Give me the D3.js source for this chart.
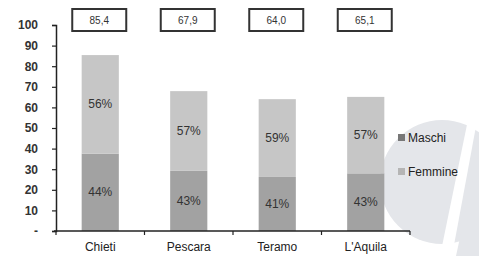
<!DOCTYPE html>
<html><head><meta charset="utf-8">
<script src="https://cdn.jsdelivr.net/npm/d3@7"></script>
<style>html,body{margin:0;padding:0;background:#fff;}svg{display:block;font-family:"Liberation Sans",Arial,sans-serif;}</style>
</head><body>
<svg id="c" width="479" height="256"></svg>
<script>
const categories = ["Chieti", "Pescara", "Teramo", "L'Aquila"];
const totals = [85.4, 67.9, 64.0, 65.1];
const maschiPct = [44, 43, 41, 43];
const femminePct = [56, 57, 59, 57];
const seriesNames = ["Maschi", "Femmine"];
const yTicks = [0, 10, 20, 30, 40, 50, 60, 70, 80, 90, 100];
const yTickLabels = ["-", "10", "20", "30", "40", "50", "60", "70", "80", "90", "100"];

const colors = {Maschi: "#a2a2a2", Femmine: "#c6c6c6"};
const svg = d3.select("#c");
const loc = d3.formatLocale({decimal: ",", thousands: ".", grouping: [3], currency: ["", ""]});
const f1 = loc.format(".1f");

// watermark
const wm = svg.append("g");
wm.append("circle").attr("cx", 442).attr("cy", 182).attr("r", 62).attr("fill", "#e4e6ea");
wm.append("polygon").attr("points", "470,110 479,110 452,256 440,256").attr("fill", "#fff");
wm.append("polygon").attr("points", "479,150 479,256 456,256").attr("fill", "#e4e6ea");

const x = d3.scaleBand().domain(categories).range([56, 410]).paddingInner(0.58).paddingOuter(0.29);
const y = d3.scaleLinear().domain([0, 100]).range([231, 25]);

const rows = categories.map((c, i) => ({
  cat: c,
  Maschi: totals[i] * maschiPct[i] / 100,
  Femmine: totals[i] * femminePct[i] / 100,
  pM: maschiPct[i], pF: femminePct[i], total: totals[i]
}));
const stack = d3.stack().keys(seriesNames)(rows);

const g = svg.append("g");
stack.forEach(s => {
  g.selectAll(null).data(s).join("rect")
    .attr("x", d => x(d.data.cat))
    .attr("width", x.bandwidth())
    .attr("y", d => y(d[1]))
    .attr("height", d => y(d[0]) - y(d[1]))
    .attr("fill", colors[s.key]);
  g.selectAll(null).data(s).join("text")
    .attr("x", d => x(d.data.cat) + x.bandwidth() / 2)
    .attr("y", d => (y(d[0]) + y(d[1])) / 2 + 4)
    .attr("text-anchor", "middle")
    .attr("font-size", 12)
    .attr("fill", "#333")
    .text(d => (s.key === "Maschi" ? d.data.pM : d.data.pF) + "%");
});

// y axis
const yAxis = d3.axisLeft(y).tickValues(yTicks).tickFormat((d, i) => yTickLabels[i]).tickSize(4).tickPadding(14);
const ya = svg.append("g").attr("transform", "translate(56,0)").call(yAxis);
ya.select(".domain").attr("stroke", "#222").attr("stroke-width", 1.5);
ya.selectAll(".tick line").attr("stroke", "#222").attr("stroke-width", 1.2);
ya.selectAll(".tick text").attr("font-size", 12).attr("font-weight", "bold").attr("fill", "#333")
  .attr("font-family", "'Liberation Sans',Arial,sans-serif");

// x axis
const xa = svg.append("g").attr("transform", "translate(0,231)");
xa.append("line").attr("x1", 54).attr("x2", x.range()[1]).attr("y1", 0).attr("y2", 0)
  .attr("stroke", "#222").attr("stroke-width", 1.5);
const bounds = categories.map(c => x(c) - x.step() * x.paddingInner() / 2).concat([x.range()[1]]);
bounds[0] = x.range()[0];
xa.selectAll(null).data(bounds).join("line")
  .attr("x1", d => d).attr("x2", d => d).attr("y1", 0).attr("y2", 4)
  .attr("stroke", "#222").attr("stroke-width", 1.2);
xa.selectAll(null).data(categories).join("text")
  .attr("x", d => x(d) + x.bandwidth() / 2)
  .attr("y", 20)
  .attr("text-anchor", "middle")
  .attr("font-size", 12)
  .attr("fill", "#222")
  .text(d => d);

// total boxes
const bx = svg.append("g");
rows.forEach(r => {
  const cx = x(r.cat) + x.bandwidth() / 2 - 1;
  bx.append("rect").attr("x", cx - 27).attr("y", 9).attr("width", 54).attr("height", 22)
    .attr("fill", "#fff").attr("stroke", "#333").attr("stroke-width", 2);
  bx.append("text").attr("x", cx).attr("y", 24).attr("text-anchor", "middle")
    .attr("font-size", 10).attr("fill", "#333").text(f1(r.total));
});

// legend
const leg = svg.append("g").attr("transform", "translate(398,0)");
[["Maschi", 138], ["Femmine", 172]].forEach(([k, yy]) => {
  leg.append("rect").attr("x", 0).attr("y", yy - 4).attr("width", 7).attr("height", 7).attr("fill", k === "Maschi" ? "#777" : "#b5b5b5");
  leg.append("text").attr("x", 10).attr("y", yy + 4).attr("font-size", 12).attr("fill", "#222").text(k);
});
</script>
</body></html>
